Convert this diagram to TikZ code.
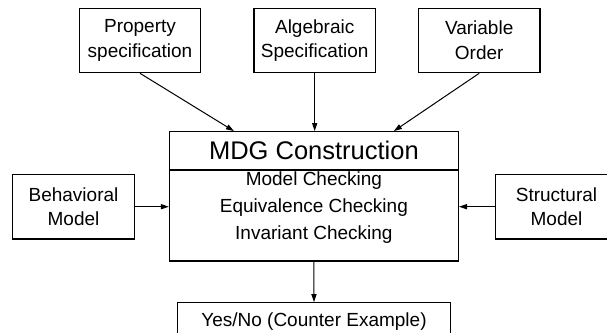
\documentclass[tikz,border=0pt]{standalone}
\usepackage{fontspec}
\setmainfont{Liberation Sans}
\usetikzlibrary{arrows.meta}

\begin{document}
\begin{tikzpicture}[x=0.5pt, y=-0.5pt,
    box/.style={draw, line width=0.6pt, align=center, inner sep=0pt,
        minimum width=60.8pt, minimum height=32.2pt,
        font=\fontsize{9.5}{12.4}\selectfont},
    arr/.style={-{Triangle[length=4pt,width=2.6pt]}, line width=0.5pt}]
\useasboundingbox (0,0) rectangle (607,333);
\draw
    (140,40.5)    node[box]                 (prop) {Property\\specification}
    (314.7,40.5)  node[box]                 (alg) {Algebraic\\Specification}
    (479.2,40.5)  node[box]                 (var) {Variable\\Order}
    (73.5,206.7)  node[box]                 (beh) {Behavioral\\Model}
    (556.5,206.7) node[box]                 (str) {Structural\\Model}
    (313.9,196.3) node[box, minimum width=144.5pt, minimum height=64.65pt] (mdg) {}
    (314,321.5)   node[box, minimum width=136.7pt, minimum height=18.8pt]  (yes) {Yes/No (Counter Example)};
\node[box, anchor=north, minimum width=144.5pt, minimum height=19.15pt,
    font=\fontsize{12.75}{15}\selectfont] (title) at (mdg.north) {MDG Construction};
\node[anchor=north, align=center, inner sep=0.6pt,
    font=\fontsize{9.5}{13.35}\selectfont] (checks) at (title.south)
    {Model Checking\\Equivalence Checking\\Invariant Checking};
\draw[arr] (prop.south) -- ([xshift=-40pt]mdg.north);
\draw[arr] (alg.south) -- (alg.south |- mdg.north);
\draw[arr] (var.south) -- ([xshift=40pt]mdg.north);
\draw[arr] (beh.east) -- (beh.east -| mdg.west);
\draw[arr] (str.west) -- (str.west -| mdg.east);
\draw[arr] (mdg.south) -- (yes.north);
\end{tikzpicture}
\end{document}
